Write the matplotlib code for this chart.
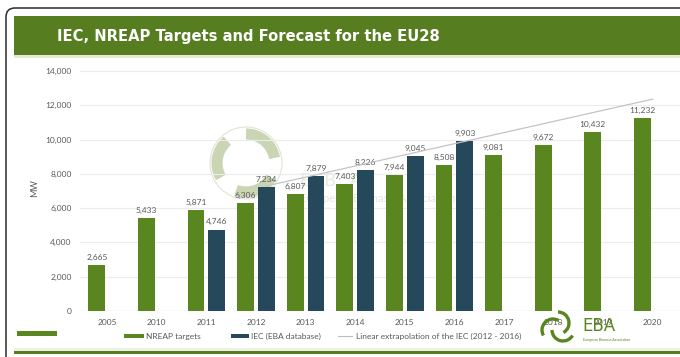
import numpy as np
import matplotlib
matplotlib.use('Agg')
import matplotlib.pyplot as plt
from matplotlib.patches import Rectangle, FancyBboxPatch, Arc

# chart data
years = ['2005', '2010', '2011', '2012', '2013', '2014', '2015', '2016',
         '2017', '2018', '2019', '2020']
nreap = [2665, 5433, 5871, 6306, 6807, 7403, 7944, 8508, 9081, 9672, 10432, 11232]
iec = [None, None, 4746, 7234, 7879, 8226, 9045, 9903, None, None, None, None]
yticks = [0, 2000, 4000, 6000, 8000, 10000, 12000, 14000]

title = 'IEC, NREAP Targets and Forecast for the EU28'
legend_labels = ['NREAP targets', 'IEC (EBA database)',
                 'Linear extrapolation of the IEC (2012 - 2016)']

GREEN = '#5a861f'
NAVY = '#25495b'
BANNER = '#567d1f'
GREY_TXT = '#595959'
SAGE = '#c9d5b3'

plt.rcParams['font.family'] = ['Lato', 'DejaVu Sans']

W, H = 680, 357
fig = plt.figure(figsize=(W / 100, H / 100), dpi=100)

# background layer in pixel coordinates: frame, banner, watermark, legend
bg = fig.add_axes([0, 0, 1, 1], zorder=0)
bg.set_xlim(0, W)
bg.set_ylim(H, 0)
bg.axis('off')

bg.add_patch(FancyBboxPatch((6, 8), 720, 400, boxstyle='round,pad=0,rounding_size=9',
                            fc='white', ec='#2b2b2b', lw=1.1))
bg.add_patch(Rectangle((14, 16), 700, 39, fc=BANNER, ec='none'))
bg.add_patch(Rectangle((14, 55), 700, 3, fc='#e4ebd2', ec='none'))
bg.text(57, 36.5, title, color='white', fontsize=10.6, fontweight='bold',
        family='DejaVu Sans', va='center', ha='left')

# faint association logo behind the bars
cx, cy = 246, 163
bg.add_patch(Arc((cx, cy), 72, 72, theta1=0, theta2=360, color='#dfe5d4', lw=0.8))
for a0 in (150, 270, 30):
    bg.add_patch(Arc((cx, cy), 58, 58, theta1=a0, theta2=a0 + 80, color=SAGE, lw=8))
bg.text(300, 181, 'E   B   A', color='#e6eadf', fontsize=13, va='center', ha='left')
bg.text(300, 198, 'European  Biomass  Association', color='#e3e6dc', fontsize=8,
        va='center', ha='left')

# bottom decorations
bg.add_patch(Rectangle((17, 331), 40, 5, fc=GREEN, ec='none'))
bg.add_patch(Rectangle((14, 348), 700, 3, fc='#edf1e3', ec='none'))
bg.add_patch(Rectangle((14, 351), 700, 3, fc=BANNER, ec='none'))

# legend entries
bg.add_patch(Rectangle((124, 334), 20, 4, fc=GREEN, ec='none'))
bg.text(146, 336, legend_labels[0], color=GREY_TXT, fontsize=6, va='center')
bg.add_patch(Rectangle((231, 334), 18, 4, fc=NAVY, ec='none'))
bg.text(251, 336, legend_labels[1], color=GREY_TXT, fontsize=6, va='center')
bg.plot([338, 352], [336, 336], color='#bdbdbd', lw=0.8)
bg.text(356, 336, legend_labels[2], color=GREY_TXT, fontsize=6, va='center')

# main bar chart
ax = fig.add_axes([80 / W, 1 - 311 / H, 600 / W, 240 / H], zorder=1)
ax.patch.set_alpha(0)
x = np.arange(len(years))
bw = 0.34
off = 0.21

ax.bar(x - off, nreap, bw, color=GREEN, zorder=3)
iec_x = np.array([i for i, v in enumerate(iec) if v is not None])
iec_v = np.array([v for v in iec if v is not None])
ax.bar(iec_x + off, iec_v, bw, color=NAVY, zorder=3)

for xi, v in zip(x, nreap):
    ax.text(xi - off, v + 250, f'{v:,}', ha='center', va='bottom',
            fontsize=6, color=GREY_TXT, zorder=4)
for xi, v in zip(iec_x, iec_v):
    ax.text(xi + off, v + 250, f'{v:,}', ha='center', va='bottom',
            fontsize=6, color=GREY_TXT, zorder=4)

# linear trend of the IEC 2012-2016 extended to 2020
fit_x = iec_x[1:]
k, b = np.polyfit(fit_x, iec_v[1:], 1)
line_x = np.array([fit_x[0] + 0.2, x[-1]])
ax.plot(line_x, k * line_x + b, color='#c4c4c4', lw=0.9, zorder=5)

ax.set_xlim(-0.55, len(years) - 0.45)
ax.set_ylim(0, 14000)
ax.set_yticks(yticks)
ax.set_yticklabels([f'{t:,}' for t in yticks])
ax.set_xticks(x)
ax.set_xticklabels(years)
ax.tick_params(length=0, labelsize=6, labelcolor=GREY_TXT)
ax.tick_params(axis='y', pad=6)
ax.tick_params(axis='x', pad=6)
ax.grid(axis='y', color='#ececec', lw=0.8, zorder=0)
ax.axhline(0, color='#d9d9d9', lw=0.8, zorder=2)
for s in ax.spines.values():
    s.set_visible(False)
fig.text(35 / W, 1 - 188 / H, 'MW', rotation=90, fontsize=6.5, color=GREY_TXT,
         ha='center', va='center')

# small logo in the lower right corner, drawn over the labels
top = fig.add_axes([0, 0, 1, 1], zorder=6)
top.set_xlim(0, W)
top.set_ylim(H, 0)
top.axis('off')
for a0, (dx, dy) in zip((150, 270, 30), ((-5, 2), (0, -5), (5, 2))):
    top.add_patch(Arc((558 + dx, 328 + dy), 22, 22, theta1=a0, theta2=a0 + 150,
                      color=GREEN, lw=2.4))
top.text(582, 326, 'EBA', color=GREEN, fontsize=12, va='center', ha='left',
         family='DejaVu Sans')
top.text(583, 340, 'European Biomass Association', color=GREEN, fontsize=2.5,
         va='center', ha='left')

fig.savefig('out.png', dpi=100)
